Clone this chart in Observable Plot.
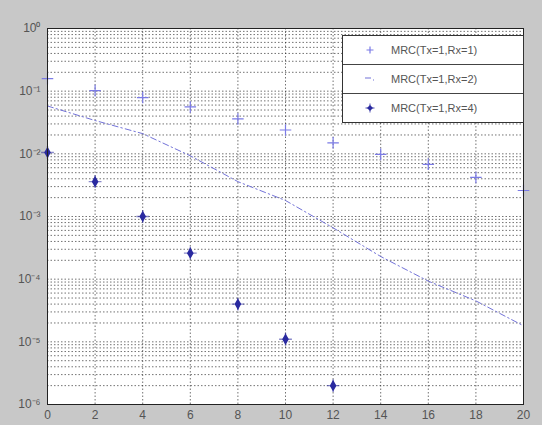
<!DOCTYPE html>
<html><head><meta charset="utf-8">
<script src="https://cdn.jsdelivr.net/npm/d3@7"></script>
<script src="https://cdn.jsdelivr.net/npm/@observablehq/plot@0.6"></script>
<style>
html,body{margin:0;padding:0;background:#c8c8c8;}
#wrap{position:relative;width:542px;height:425px;background:#c8c8c8;font-family:"Liberation Sans",Arial,sans-serif;}
#legend{position:absolute;left:342px;top:35px;width:180px;background:#fff;border:1px solid #333;}
.row{display:flex;align-items:center;height:28px;border-top:1px solid #444;font-size:11px;color:#555;}
.row:first-child{border-top:none;}
.row svg{margin-left:20px;margin-right:14px;}
</style></head>
<body><div id="wrap"><div id="legend"></div></div>
<script>
const snr = [0,2,4,6,8,10,12,14,16,18,20];
const berRx1 = [0.158,0.102,0.079,0.056,0.036,0.024,0.015,0.0098,0.0068,0.0042,0.0026];
const berRx2 = [0.058,0.034,0.021,0.0093,0.0036,0.0018,0.00066,0.00023,0.000093,0.000045,0.000018];
const snrRx4 = [0,2,4,6,8,10,12];
const berRx4 = [0.0105,0.0036,0.001,0.00026,0.00004,0.000011,0.000002];
const seriesNames = ["MRC(Tx=1,Rx=1)","MRC(Tx=1,Rx=2)","MRC(Tx=1,Rx=4)"];
const xTicks = [0,2,4,6,8,10,12,14,16,18,20];
const yDecades = [-6,-5,-4,-3,-2,-1,0];
const sup = {"-":"\u207B","0":"\u2070","1":"\u00B9","2":"\u00B2","3":"\u00B3","4":"\u2074","5":"\u2075","6":"\u2076"};

const c1 = "#7b7be6", c2 = "#7272d8", c3 = "#2a2aa0";
const d1 = snr.map((x,i)=>({x, y:berRx1[i]}));
const d2 = snr.map((x,i)=>({x, y:berRx2[i]}));
const d3 = snrRx4.map((x,i)=>({x, y:berRx4[i]}));
const yMajor = yDecades.map(k=>Math.pow(10,k));
const yMinor = [];
yDecades.slice(0,-1).forEach(k=>{for(let m=2;m<=9;m++) yMinor.push(m*Math.pow(10,k));});
const fmt = d=>"10"+String(Math.round(Math.log10(d))).split("").map(c=>sup[c]).join("");

const chart = Plot.plot({
  width:542, height:425,
  marginLeft:47, marginRight:19, marginTop:28, marginBottom:21,
  style:{background:"transparent", fontFamily:"Liberation Sans, Arial, sans-serif", fontSize:"12px", color:"#555"},
  x:{domain:[0,20], label:null},
  y:{type:"log", domain:[1e-6,1], label:null},
  marks:[
    Plot.frame({fill:"#fff"}),
    Plot.ruleY(yMinor,{stroke:"#222", strokeOpacity:0.8, strokeDasharray:"1.5,2", strokeWidth:0.8}),
    Plot.ruleY(yMajor,{stroke:"#222", strokeOpacity:0.8, strokeDasharray:"1.5,2", strokeWidth:0.8}),
    Plot.ruleX(xTicks,{stroke:"#222", strokeOpacity:0.8, strokeDasharray:"1.5,2", strokeWidth:0.8}),
    Plot.line(d2,{x:"x", y:"y", stroke:c2, strokeWidth:1, strokeDasharray:"6,3,1.5,3"}),
    Plot.dot(d1,{x:"x", y:"y", symbol:"plus", r:3.8, stroke:c1, strokeWidth:1.2}),
    Plot.dot(d3,{x:"x", y:"y", symbol:"diamond", r:2.6, fill:c3, stroke:c3}),
    Plot.dot(d3,{x:"x", y:"y", symbol:"plus", r:4.2, stroke:c3, strokeWidth:1.4, strokeOpacity:0.55}),
    Plot.frame({stroke:"#222"}),
    Plot.axisX({tickSize:0, tickPadding:6, ticks:xTicks, fill:"#555", fontSize:12}),
    Plot.axisY({tickSize:0, tickPadding:7, ticks:yMajor, fill:"#555", fontSize:12, tickFormat:fmt})
  ]
});
document.getElementById("wrap").prepend(chart);
chart.style.position="absolute"; chart.style.left="0"; chart.style.top="0";

const icons = [
  `<svg width="14" height="14"><path d="M7 3.5V10.5M3.5 7H10.5" stroke="${c1}" stroke-width="1.2"/></svg>`,
  `<svg width="14" height="14"><path d="M2 6H8M10 8H11" stroke="${c2}" stroke-width="1.2"/></svg>`,
  `<svg width="14" height="14"><path d="M7 2.5V11.5M2.5 7H11.5" stroke="${c3}" stroke-width="1.4" opacity="0.55"/><path d="M7 4L10 7L7 10L4 7Z" fill="${c3}"/></svg>`
];
document.getElementById("legend").innerHTML = seriesNames.map((n,i)=>`<div class="row">${icons[i]}<span>${n}</span></div>`).join("");
</script></body></html>
